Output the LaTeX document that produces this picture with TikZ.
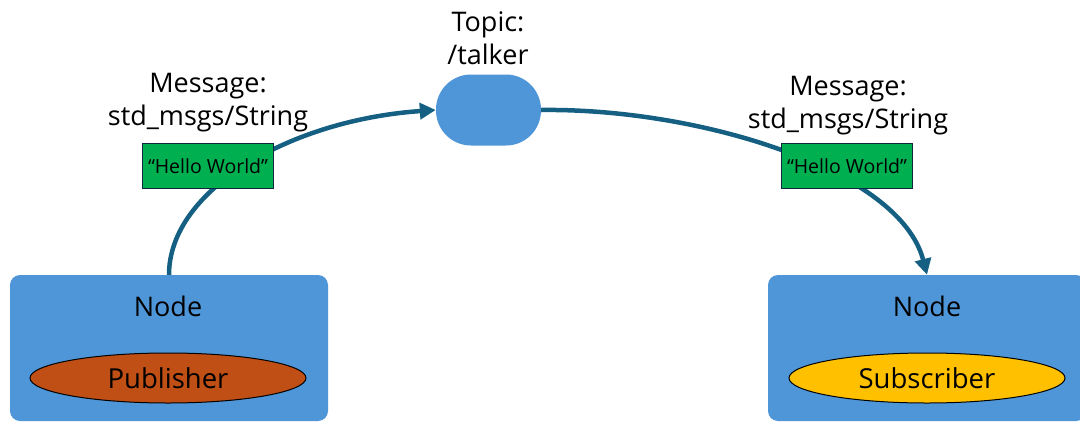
\documentclass[tikz,border=0pt]{standalone}
\usepackage{fontspec}
\setmainfont{Open Sans}
\usetikzlibrary{arrows.meta,shapes.geometric}

\definecolor{nodeblue}{RGB}{79,150,217}
\definecolor{flowteal}{RGB}{21,96,130}
\definecolor{msggreen}{RGB}{0,176,80}
\definecolor{msgedge}{RGB}{14,40,65}
\definecolor{pubbrown}{RGB}{192,79,21}
\definecolor{subgold}{RGB}{255,192,0}

\tikzset{
  rosnode/.style={fill=nodeblue, draw=none, rounded corners=10pt,
    minimum width=318pt, minimum height=146pt, inner sep=0pt},
  roleoval/.style={ellipse, draw=black, line width=1pt, minimum width=276pt,
    minimum height=50pt, inner sep=0pt, font=\fontsize{27.5}{30}\selectfont},
  topicpill/.style={fill=nodeblue, draw=none, rounded corners=35pt,
    minimum width=105pt, minimum height=71pt, inner sep=0pt},
  msgbox/.style={fill=msggreen, draw=msgedge, line width=1.2pt,
    minimum width=131pt, minimum height=45pt, inner sep=0pt,
    font=\fontsize{19.5}{22}\selectfont},
  biglabel/.style={align=center, inner sep=0pt,
    font=\fontsize{27}{33}\selectfont},
  flow/.style={draw=flowteal, line width=4.5pt,
    -{Triangle[length=16pt,width=16pt]}},
}

\begin{document}
\begin{tikzpicture}[x=1pt,y=-1pt]
\useasboundingbox (0,0) rectangle (1080,421);

% publisher side
\node[rosnode] (pub) at (169,348) {};
\node[font=\fontsize{27}{30}\selectfont, inner sep=0pt] (pubname) at (168,306) {Node};
\node[roleoval, fill=pubbrown] (publisher) at (168,378) {Publisher};

% subscriber side
\node[rosnode] (sub) at (927,348) {};
\node[font=\fontsize{27}{30}\selectfont, inner sep=0pt] (subname) at (927,306) {Node};
\node[roleoval, fill=subgold] (subscriber) at (927,378) {Subscriber};

% topic
\node[topicpill] (topic) at (488.5,110) {};
\node[biglabel] (topiclabel) at (488,38) {Topic:\\/talker};

% message flow
\draw[flow] (pub.north) .. controls (169,190) and (290,120) .. (topic.west);
\draw[flow] (topic.east) .. controls (700,108) and (900,170) .. (sub.north);

% message type labels
\node[biglabel] (msgleft) at (208,103) {Message:\\std\_msgs/String};
\node[biglabel] (msgright) at (848,106) {Message:\\std\_msgs/String};

% message payloads
\node[msgbox] (payloadleft) at (208,166) {“Hello World”};
\node[msgbox] (payloadright) at (847,166) {“Hello World”};
\end{tikzpicture}
\end{document}
